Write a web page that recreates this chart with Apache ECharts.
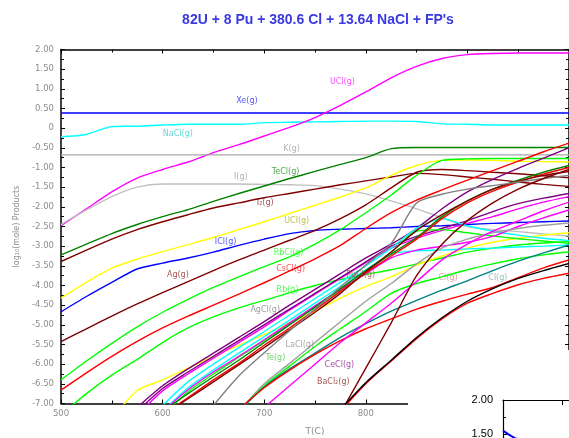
<!DOCTYPE html>
<html>
<head>
<meta charset="utf-8">
<script src="https://cdn.jsdelivr.net/npm/echarts@6/dist/echarts.min.js"></script>
<style>
  html, body { margin: 0; padding: 0; background: #fff; }
  #chart { width: 569px; height: 438px; }
</style>
</head>
<body>
<div id="chart"></div>
<script>
// Temperature grid (°C)
const temps = [500,525,550,575,600,625,650,675,700,725,750,775,800,825,850,875,900,925,950,975,1000];

// log10(mole) of each product, one value per temperature
const xeGas    = [0.385,0.385,0.385,0.385,0.385,0.385,0.385,0.385,0.385,0.385,0.385,0.385,0.385,0.385,0.385,0.385,0.385,0.385,0.385,0.385,0.385];
const naclGas  = [-0.22,-0.16,0.04,0.05,0.08,0.10,0.10,0.10,0.14,0.15,0.16,0.17,0.18,0.18,0.17,0.11,0.10,0.08,0.08,0.08,0.08];
const uclGas   = [-2.48,-2.05,-1.62,-1.27,-1.05,-0.86,-0.62,-0.42,-0.20,0.02,0.27,0.58,0.92,1.28,1.57,1.77,1.87,1.90,1.91,1.91,1.91];
const kGas     = [-0.68,-0.68,-0.68,-0.68,-0.68,-0.68,-0.68,-0.68,-0.68,-0.68,-0.68,-0.68,-0.68,-0.68,-0.68,-0.68,-0.68,-0.68,-0.68,-0.68,-0.68];
const iGas     = [-2.45,-2.08,-1.74,-1.50,-1.42,-1.42,-1.42,-1.42,-1.43,-1.44,-1.46,-1.55,-1.67,-1.85,-2.05,-2.28,-2.50,-2.58,-2.63,-2.69,-2.74];
const teclGas  = [-3.22,-2.95,-2.68,-2.45,-2.25,-2.07,-1.86,-1.66,-1.47,-1.28,-1.10,-0.92,-0.75,-0.52,-0.49,-0.49,-0.49,-0.49,-0.49,-0.49,-0.49];
const i2Gas    = [-3.39,-3.10,-2.82,-2.58,-2.38,-2.20,-2.03,-1.90,-1.77,-1.66,-1.55,-1.44,-1.34,-1.24,-1.15,-1.18,-1.24,-1.30,-1.37,-1.43,-1.48];
const ucl3Gas  = [-4.32,-3.92,-3.56,-3.33,-3.14,-2.96,-2.78,-2.58,-2.38,-2.17,-1.96,-1.75,-1.52,-1.20,-0.95,-0.82,-0.81,-0.82,-0.84,-0.85,-0.86];
const iclGas   = [-4.67,-4.28,-3.92,-3.58,-3.43,-3.30,-3.15,-2.98,-2.82,-2.68,-2.60,-2.57,-2.55,-2.53,-2.50,-2.48,-2.45,-2.42,-2.40,-2.38,-2.36];
const agGas    = [-5.43,-5.10,-4.78,-4.47,-4.18,-3.90,-3.62,-3.35,-3.10,-2.85,-2.60,-2.30,-1.95,-1.52,-1.12,-1.05,-1.08,-1.12,-1.16,-1.21,-1.26];
const rbclGas  = [-6.40,-5.92,-5.47,-5.05,-4.68,-4.35,-4.05,-3.78,-3.52,-3.27,-2.95,-2.58,-2.15,-1.70,-1.20,-0.82,-0.78,-0.77,-0.77,-0.77,-0.77];
const csclGas  = [-6.66,-6.22,-5.80,-5.42,-5.08,-4.78,-4.50,-4.22,-3.93,-3.63,-3.32,-2.98,-2.55,-2.15,-1.83,-1.57,-1.32,-1.08,-0.84,-0.60,-0.38];
const rbGas    = [-7.30,-6.75,-6.28,-5.88,-5.45,-5.08,-4.80,-4.57,-4.38,-4.18,-4.00,-3.85,-3.72,-3.60,-3.45,-3.30,-3.15,-3.05,-2.97,-2.92,-2.88];
const ucl4Low  = [null,null,-7.40,-6.67,-6.40,-6.10,-5.80,-5.52,-5.25,-4.95,-4.65,-4.32,-4.02,-3.78,-3.48,-3.25,-3.05,-2.90,-2.80,-2.72,-2.66];
const puclGas  = [null,null,null,-7.10,-6.55,-6.12,-5.72,-5.32,-4.92,-4.50,-4.10,-3.70,-3.30,-2.95,-2.55,-2.05,-1.62,-1.30,-1.02,-0.76,-0.50];
const ceclGas  = [null,null,null,-7.30,-6.68,-6.25,-5.85,-5.45,-5.05,-4.63,-4.22,-3.82,-3.42,-3.05,-2.80,-2.60,-2.42,-2.25,-2.05,-1.88,-1.74];
const pucl2Gas = [null,null,null,-7.20,-6.62,-6.20,-5.80,-5.40,-5.00,-4.60,-4.20,-3.80,-3.40,-3.00,-2.75,-2.55,-2.35,-2.12,-1.92,-1.78,-1.66];
const cscl2Gas = [null,null,null,null,-7.05,-6.45,-6.00,-5.58,-5.17,-4.75,-4.33,-3.92,-3.50,-3.05,-2.55,-2.30,-2.48,-2.62,-2.72,-2.80,-2.86];
const naclLow  = [null,null,null,null,-7.20,-6.60,-6.15,-5.72,-5.30,-4.88,-4.45,-4.02,-3.60,-3.20,-3.12,-3.10,-3.07,-3.05,-3.02,-3.00,-2.97];
const srclGas  = [null,null,null,null,-7.30,-6.70,-6.25,-5.82,-5.40,-4.97,-4.55,-4.12,-3.68,-3.15,-2.62,-2.58,-2.66,-2.74,-2.81,-2.87,-2.93];
const ndclGas  = [null,null,null,null,-7.20,-6.65,-6.20,-5.80,-5.38,-4.95,-4.52,-4.10,-3.70,-3.30,-3.10,-3.00,-2.90,-2.75,-2.50,-2.28,-2.08];
const zrclGas  = [null,null,null,null,-7.20,-6.75,-6.32,-5.90,-5.45,-5.00,-4.55,-4.08,-3.62,-3.20,-2.78,-2.25,-1.85,-1.55,-1.32,-1.12,-0.95];
const moclGas  = [null,null,null,null,-7.30,-6.85,-6.40,-5.98,-5.52,-5.08,-4.62,-4.15,-3.68,-3.25,-2.82,-2.30,-1.90,-1.60,-1.37,-1.17,-1.00];
const pdclGas  = [null,null,null,null,-7.30,-6.88,-6.45,-6.02,-5.58,-5.13,-4.68,-4.20,-3.65,-3.15,-2.60,-2.20,-1.85,-1.55,-1.35,-1.20,-1.10];
const agclGas  = [null,null,null,null,null,null,-7.05,-6.30,-5.71,-5.15,-4.60,-4.04,-3.48,-2.93,-1.90,-1.68,-1.55,-1.46,-1.37,-1.28,-1.20];
const laclGas  = [null,null,null,null,null,null,null,-7.20,-6.50,-5.98,-5.45,-4.92,-4.40,-3.95,-3.45,-3.05,-2.82,-2.66,-2.55,-2.47,-2.41];
const teGas    = [null,null,null,null,null,null,null,-7.20,-6.55,-6.05,-5.55,-5.10,-4.66,-4.20,-3.95,-3.78,-3.60,-3.45,-3.32,-3.22,-3.14];
const clGas    = [null,null,null,null,null,null,null,-7.20,-6.58,-6.12,-5.72,-5.32,-4.97,-4.65,-4.38,-4.12,-3.88,-3.62,-3.38,-3.17,-2.97];
const ruclGas  = [null,null,null,null,null,null,null,-7.15,-6.60,-6.15,-5.75,-5.40,-5.10,-4.85,-4.60,-4.40,-4.22,-4.05,-3.80,-3.55,-3.35];
const ce2Gas   = [null,null,null,null,null,null,null,null,-7.10,-6.55,-6.00,-5.45,-4.95,-4.45,-3.90,-3.35,-2.95,-2.62,-2.36,-2.10,-1.88];
const baclGas  = [null,null,null,null,null,null,null,null,null,null,null,-7.25,-6.10,-4.95,-3.75,-2.95,-2.35,-1.90,-1.55,-1.28,-1.05];
const cl2Gas   = [null,null,null,null,null,null,null,null,null,null,null,-7.15,-6.47,-5.90,-5.32,-4.82,-4.40,-4.08,-3.82,-3.62,-3.44];
const cl3Gas   = [null,null,null,null,null,null,null,null,null,null,null,-7.20,-6.50,-5.92,-5.35,-4.85,-4.45,-4.20,-3.98,-3.82,-3.69];

// Small inset panel (second plot) values
const insetX = [0, 0.05, 0.1, 0.2, 0.3];
const insetY = [1.55, 1.52, 1.49, 1.44, 1.40];

// Curve labels: text, temperature, log10(mole)
const labelText = ['UCl(g)','Xe(g)','NaCl(g)','K(g)','TeCl(g)','I(g)','I\u2082(g)','UCl(g)','ICl(g)','Ag(g)','RbCl(g)','CsCl(g)','Rb(g)','AgCl(g)','PuCl(g)','LaCl(g)','Te(g)','CeCl(g)','BaCl\u2082(g)','Cl(g)','Cl(g)'];
const labelT    = [777, 683, 615, 727, 721, 677, 701, 732, 662, 615, 724, 726, 723, 701, 795, 735, 711, 774, 768, 881, 930];
const labelV    = [1.18, 0.69, -0.15, -0.53, -1.12, -1.24, -1.90, -2.36, -2.90, -3.74, -3.17, -3.57, -4.10, -4.62, -3.74, -5.50, -5.84, -6.02, -6.45, -3.80, -3.80];

const BLUE='#0000ff', CYAN='#00ffff', MAG='#ff00ff', GRN='#00ff00', RED='#ff0000', YEL='#ffff00',
      DGRN='#008000', BRN='#800000', PUR='#800080', TEAL='#008080', GRY='#808080', LGRY='#c0c0c0', BLK='#000000';

const curves = [
  ['Xe(g)', xeGas, BLUE], ['NaCl(g)', naclGas, CYAN], ['UCl4(g)', uclGas, MAG], ['K(g)', kGas, '#a8a8a8'],
  ['I(g)', iGas, LGRY], ['TeCl4(g)', teclGas, DGRN], ['I2(g)', i2Gas, BRN], ['UCl3(g)', ucl3Gas, YEL],
  ['ICl(g)', iclGas, BLUE], ['Ag(g)', agGas, BRN], ['RbCl(g)', rbclGas, GRN], ['CsCl(g)', csclGas, RED],
  ['Rb(g)', rbGas, GRN], ['UCl5(g)', ucl4Low, YEL], ['PuCl3(g)', puclGas, PUR], ['CeCl3(g)', ceclGas, MAG],
  ['PuCl4(g)', pucl2Gas, PUR], ['Cs2Cl2(g)', cscl2Gas, CYAN], ['Na2Cl2(g)', naclLow, CYAN], ['SrCl2(g)', srclGas, GRN],
  ['NdCl3(g)', ndclGas, MAG], ['ZrCl4(g)', zrclGas, DGRN], ['MoCl4(g)', moclGas, RED], ['PdCl2(g)', pdclGas, BRN],
  ['AgCl(g)', agclGas, GRY], ['LaCl3(g)', laclGas, '#a0a0a0'], ['Te(g)', teGas, GRN], ['Cl(g)', clGas, TEAL],
  ['RuCl3(g)', ruclGas, RED], ['Ce2Cl6(g)', ce2Gas, MAG], ['BaCl2(g)', baclGas, BRN], ['Cl2(g)', cl3Gas, RED],
  ['Cl3(g)', cl2Gas, BLK]
];
const labelColor = [MAG, BLUE, '#20c8c8', '#909090', DGRN, '#909090', BRN, '#a0a000', BLUE, BRN, GRN, RED, GRN, '#707070', '#a03030', '#808080', '#30c030', PUR, BRN, '#e07070', '#70a0a0'];

const chart = echarts.init(document.getElementById('chart'), null, { renderer: 'canvas' });

const lineSeries = curves.map(([name, vals, color]) => ({
  name, type: 'line', xAxisIndex: 0, yAxisIndex: 0,
  data: temps.map((t, i) => [t, vals[i]]).filter(p => p[1] !== null),
  showSymbol: false, symbol: 'none', smooth: 0.25, clip: true,
  lineStyle: { color, width: 1.4 }, z: 2, silent: true
}));

const labelFont = 'DejaVu Sans, Verdana, sans-serif';
const labelSeries = {
  type: 'scatter', xAxisIndex: 0, yAxisIndex: 0, symbolSize: 0, z: 3, silent: true,
  data: labelText.map((txt, i) => ({
    value: [labelT[i], labelV[i]],
    label: { show: true, formatter: txt, color: labelColor[i], opacity: 0.7, fontSize: 8,
             fontFamily: labelFont, position: 'inside' }
  }))
};

const insetSeries = {
  type: 'line', xAxisIndex: 2, yAxisIndex: 2, z: 60, silent: true,
  data: insetX.map((x, i) => [x, insetY[i]]), showSymbol: false, symbol: 'none',
  lineStyle: { color: '#0000ff', width: 2 }
};

const tickGray = '#8c8c8c';
const font = 'Liberation Sans, Arial, sans-serif';
const fmtY = v => (Math.abs(v) < 1e-9 ? '0' : v.toFixed(2));

chart.setOption({
  animation: false,
  backgroundColor: '#ffffff',
  title: {
    text: "82U + 8 Pu + 380.6 Cl + 13.64 NaCl + FP's",
    left: 313, top: 8, textAlign: 'center',
    textStyle: { color: '#3a3ae0', fontSize: 14, fontWeight: 'bold', fontFamily: font }
  },
  grid: [
    { left: 61, top: 49.5, right: 0, bottom: 34.5, outerBoundsMode: 'none' },
    { left: 503, top: 400, width: 590, height: 136, outerBoundsMode: 'none' }
  ],
  xAxis: [
    { type: 'value', gridIndex: 0, min: 500, max: 1000, interval: 100, position: 'bottom',
      name: 'T(C)', nameLocation: 'middle', nameGap: 24,
      nameTextStyle: { color: tickGray, fontSize: 9, fontFamily: labelFont },
      axisLine: { show: true, onZero: false, lineStyle: { color: '#000', width: 1.5 } },
      axisTick: { show: true, inside: true, length: 4, lineStyle: { color: '#000' } },
      minorTick: { show: true, splitNumber: 2, length: 3, lineStyle: { color: '#000' } },
      splitLine: { show: false },
      axisLabel: { color: tickGray, fontSize: 8.5, fontFamily: labelFont, margin: 6,
                   formatter: v => (v >= 900 ? '' : String(v)) } },
    { type: 'value', gridIndex: 0, min: 500, max: 1000, interval: 100, position: 'top',
      axisLine: { show: true, onZero: false, lineStyle: { color: '#000', width: 1.5 } },
      axisTick: { show: true, inside: true, length: 4, lineStyle: { color: '#000' } },
      minorTick: { show: true, splitNumber: 2, length: 3, lineStyle: { color: '#000' } },
      splitLine: { show: false }, axisLabel: { show: false } },
    { type: 'value', gridIndex: 1, min: 0, max: 10, interval: 1, position: 'top', z: 60,
      axisLine: { show: true, onZero: false, lineStyle: { color: '#000', width: 1.2 } },
      axisTick: { show: true, inside: true, length: 5, lineStyle: { color: '#000' } },
      splitLine: { show: false }, axisLabel: { show: false } }
  ],
  yAxis: [
    { type: 'value', gridIndex: 0, min: -7, max: 2, interval: 0.5,
      name: 'log\u2081\u2080(mole) Products', nameLocation: 'middle', nameGap: 38, nameRotate: 90,
      nameTextStyle: { color: tickGray, fontSize: 8, fontFamily: labelFont },
      axisLine: { show: true, onZero: false, lineStyle: { color: '#000', width: 1.5 } },
      axisTick: { show: true, inside: true, length: 4, lineStyle: { color: '#000' } },
      minorTick: { show: true, splitNumber: 2, length: 3, lineStyle: { color: '#000' } },
      splitLine: { show: false },
      axisLabel: { color: tickGray, fontSize: 8.5, fontFamily: labelFont, margin: 7, formatter: fmtY } },
    { type: 'value', gridIndex: 0, min: -7, max: 2, interval: 0.5, position: 'right',
      axisLine: { show: true, onZero: false, lineStyle: { color: '#000', width: 1.5 } },
      axisTick: { show: true, inside: true, length: 4, lineStyle: { color: '#000' } },
      minorTick: { show: true, splitNumber: 2, length: 3, lineStyle: { color: '#000' } },
      splitLine: { show: false }, axisLabel: { show: false } },
    { type: 'value', gridIndex: 1, min: 0, max: 2, interval: 0.5, z: 60,
      axisLine: { show: true, onZero: false, lineStyle: { color: '#000', width: 1.2 } },
      axisTick: { show: true, inside: true, length: 4, lineStyle: { color: '#000' } },
      minorTick: { show: true, splitNumber: 2, length: 3, lineStyle: { color: '#000' } },
      splitLine: { show: false },
      axisLabel: { color: '#000', fontSize: 11, fontFamily: font, margin: 10, formatter: v => v.toFixed(2) } }
  ],
  graphic: [
    { type: 'rect', z: 50, silent: true, shape: { x: 408, y: 350, width: 161, height: 88 },
      style: { fill: '#ffffff' } }
  ],
  series: [...lineSeries, labelSeries, insetSeries]
});
</script>
</body>
</html>
